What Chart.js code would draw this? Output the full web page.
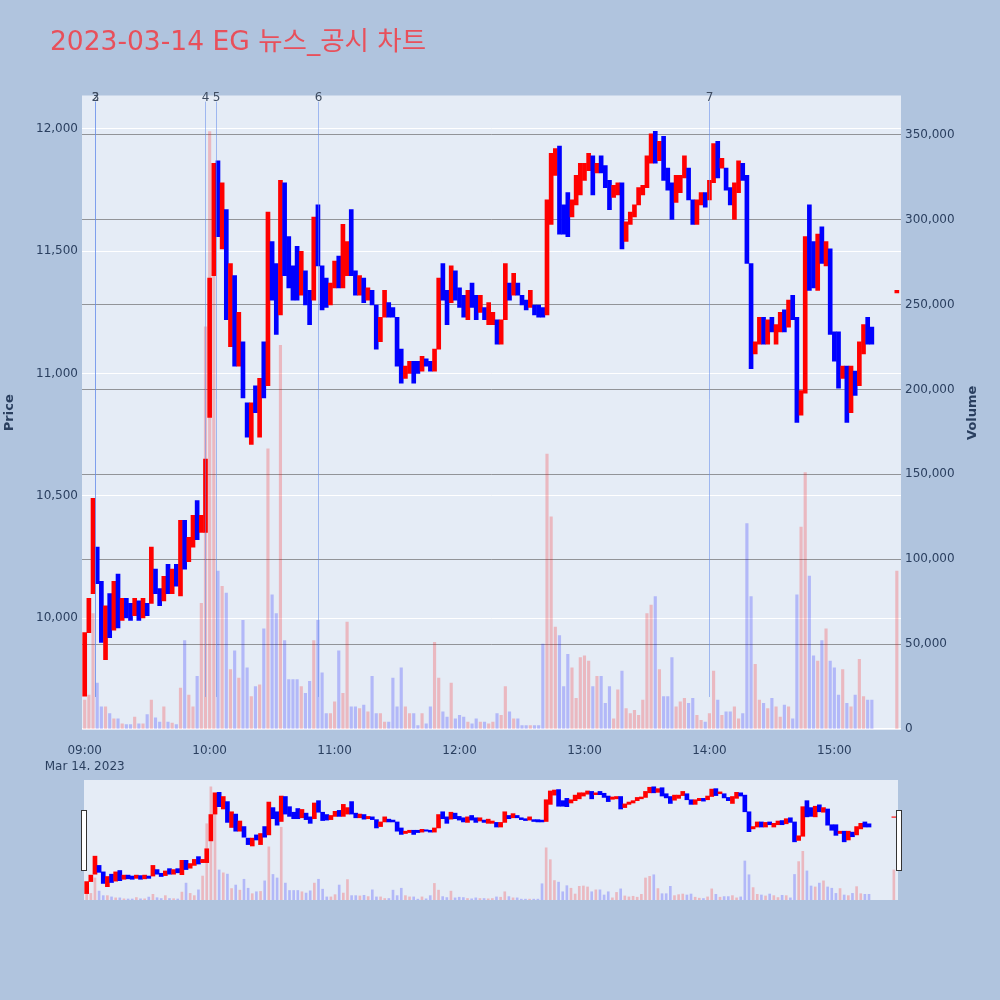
<!DOCTYPE html>
<html>
<head>
<meta charset="utf-8">
<script src="https://cdn.jsdelivr.net/npm/chart.js@4.4.1/dist/chart.umd.min.js"></script>
<style>
  html, body { margin: 0; padding: 0; background: #b0c4de; }
  #wrap { position: relative; width: 1000px; height: 1000px; }
  #main { position: absolute; left: 0; top: 0; }
  #slider { position: absolute; left: 74px; top: 780px; }
</style>
</head>
<body>
<div id="wrap">
  <canvas id="main" width="1000" height="1000"></canvas>
  <canvas id="slider" width="834" height="120"></canvas>
</div>
<script>
// 2-minute buckets of the 1-minute chart, plus the 15:30 closing auction
const times = [
  '09:00','09:02','09:04','09:06','09:08','09:10','09:12','09:14','09:16','09:18',
  '09:20','09:22','09:24','09:26','09:28','09:30','09:32','09:34','09:36','09:38',
  '09:40','09:42','09:44','09:46','09:48','09:50','09:52','09:54','09:56','09:58',
  '10:00','10:02','10:04','10:06','10:08','10:10','10:12','10:14','10:16','10:18',
  '10:20','10:22','10:24','10:26','10:28','10:30','10:32','10:34','10:36','10:38',
  '10:40','10:42','10:44','10:46','10:48','10:50','10:52','10:54','10:56','10:58',
  '11:00','11:02','11:04','11:06','11:08','11:10','11:12','11:14','11:16','11:18',
  '11:20','11:22','11:24','11:26','11:28','11:30','11:32','11:34','11:36','11:38',
  '11:40','11:42','11:44','11:46','11:48','11:50','11:52','11:54','11:56','11:58',
  '12:00','12:02','12:04','12:06','12:08','12:10','12:12','12:14','12:16','12:18',
  '12:20','12:22','12:24','12:26','12:28','12:30','12:32','12:34','12:36','12:38',
  '12:40','12:42','12:44','12:46','12:48','12:50','12:52','12:54','12:56','12:58',
  '13:00','13:02','13:04','13:06','13:08','13:10','13:12','13:14','13:16','13:18',
  '13:20','13:22','13:24','13:26','13:28','13:30','13:32','13:34','13:36','13:38',
  '13:40','13:42','13:44','13:46','13:48','13:50','13:52','13:54','13:56','13:58',
  '14:00','14:02','14:04','14:06','14:08','14:10','14:12','14:14','14:16','14:18',
  '14:20','14:22','14:24','14:26','14:28','14:30','14:32','14:34','14:36','14:38',
  '14:40','14:42','14:44','14:46','14:48','14:50','14:52','14:54','14:56','14:58',
  '15:00','15:02','15:04','15:06','15:08','15:10','15:12','15:14','15:16','15:18',
  '15:30'
];

const opens = [
  9680, 9940, 10100, 10290, 10150, 9830, 10100, 9950, 10180, 9990,
  10080, 10060, 10010, 10070, 10000, 10060, 10060, 10200, 10120, 10070,
  10220, 10100, 10220, 10090, 10400, 10230, 10290, 10480, 10350, 10350,
  10820, 11400, 11870, 11510, 11670, 11110, 11400, 11030, 11130, 10880,
  10710, 10950, 10740, 11130, 10950, 11540, 11450, 11240, 11780, 11560,
  11440, 11520, 11320, 11420, 11340, 11300, 11690, 11440, 11390, 11280,
  11350, 11480, 11350, 11400, 11670, 11420, 11320, 11390, 11300, 11340,
  11280, 11130, 11230, 11290, 11270, 11230, 11100, 10980, 11000, 11050,
  11050, 11010, 11060, 11050, 11010, 11100, 11450, 11340, 11290, 11420,
  11350, 11320, 11220, 11370, 11320, 11250, 11270, 11200, 11200, 11220,
  11120, 11220, 11370, 11320, 11370, 11320, 11300, 11270, 11280, 11280,
  11270, 11240, 11610, 11810, 11930, 11690, 11740, 11640, 11690, 11730,
  11790, 11830, 11890, 11820, 11890, 11850, 11790, 11720, 11730, 11780,
  11540, 11610, 11640, 11690, 11730, 11760, 11860, 11990, 11870, 11970,
  11840, 11780, 11700, 11740, 11800, 11840, 11710, 11610, 11690, 11740,
  11710, 11780, 11950, 11840, 11840, 11760, 11630, 11740, 11860, 11810,
  11450, 11080, 11120, 11230, 11120, 11230, 11120, 11170, 11260, 11190,
  11320, 11230, 10830, 10920, 11690, 11540, 11340, 11600, 11440, 11510,
  11170, 11170, 10980, 11030, 10840, 11010, 10950, 11080, 11230, 11190,
  11330
];

const closes = [
  9940, 10080, 10490, 10140, 9900, 10050, 9920, 10150, 9960, 10080,
  10000, 9990, 10080, 9990, 10080, 10010, 10290, 10100, 10050, 10170,
  10100, 10200, 10130, 10400, 10200, 10330, 10420, 10320, 10420, 10650,
  11390, 11860, 11560, 11780, 11220, 11450, 11030, 11250, 10900, 10740,
  10880, 10840, 10980, 10900, 11660, 11300, 11160, 11790, 11400, 11350,
  11300, 11300, 11500, 11280, 11200, 11640, 11440, 11260, 11270, 11370,
  11460, 11350, 11610, 11540, 11400, 11320, 11400, 11290, 11350, 11280,
  11100, 11230, 11340, 11230, 11230, 11030, 10960, 11030, 11050, 10960,
  11000, 11070, 11030, 11010, 11100, 11390, 11300, 11200, 11440, 11300,
  11270, 11230, 11340, 11270, 11220, 11320, 11220, 11290, 11250, 11120,
  11220, 11450, 11300, 11410, 11320, 11280, 11260, 11340, 11240, 11230,
  11230, 11710, 11900, 11920, 11570, 11570, 11560, 11710, 11810, 11860,
  11860, 11900, 11730, 11860, 11820, 11760, 11670, 11770, 11780, 11510,
  11620, 11660, 11690, 11760, 11770, 11890, 11980, 11860, 11950, 11790,
  11750, 11630, 11810, 11810, 11890, 11710, 11610, 11710, 11740, 11680,
  11790, 11940, 11800, 11880, 11750, 11690, 11780, 11870, 11790, 11450,
  11020, 11130, 11230, 11120, 11220, 11170, 11200, 11250, 11170, 11300,
  11220, 10800, 10930, 11560, 11340, 11350, 11570, 11450, 11540, 11160,
  11050, 10940, 11030, 10800, 11030, 10910, 11130, 11200, 11120, 11120,
  11340
];

const volumes = [
  17000, 20000, 68000, 27000, 13000, 13000, 9000, 6000, 6000, 3000,
  2500, 2500, 7000, 3000, 3000, 8500, 17000, 6500, 4000, 13000,
  4000, 3500, 2500, 24000, 52000, 20000, 13000, 31000, 74000, 237000,
  352000, 275000, 93000, 84000, 80000, 35000, 46000, 30000, 64000, 36000,
  19000, 25000, 26000, 59000, 165000, 79000, 68000, 226000, 52000, 29000,
  29000, 29000, 25000, 21000, 28000, 52000, 64000, 33000, 9000, 9000,
  16000, 46000, 21000, 63000, 13000, 13000, 12000, 14000, 10000, 31000,
  9000, 9000, 4000, 4000, 30000, 13000, 36000, 13000, 9000, 9000,
  2000, 9000, 3000, 13000, 51000, 30000, 10000, 7000, 27000, 6000,
  8000, 7000, 4000, 3000, 6000, 4000, 4000, 3000, 4000, 9000,
  8000, 25000, 10000, 6000, 6000, 2000, 2000, 2000, 2000, 2000,
  50000, 162000, 125000, 60000, 55000, 25000, 44000, 36000, 18000, 42000,
  43000, 40000, 25000, 31000, 31000, 15000, 25000, 6000, 23000, 34000,
  12000, 9000, 11000, 8000, 17000, 68000, 73000, 78000, 35000, 19000,
  19000, 42000, 13000, 16000, 18000, 15000, 18000, 8000, 5000, 4000,
  9000, 34000, 17000, 8000, 10000, 10000, 13000, 6000, 9000, 121000,
  78000, 38000, 17000, 15000, 12000, 18000, 13000, 7000, 14000, 13000,
  6000, 79000, 119000, 151000, 90000, 43000, 40000, 52000, 59000, 40000,
  36000, 20000, 35000, 15000, 13000, 20000, 41000, 19000, 17000, 17000,
  93000
];

const xTicks = ['09:00', '10:00', '11:00', '12:00', '13:00', '14:00', '15:00'];
const dateLabel = 'Mar 14, 2023';
const priceTicks = [10000, 10500, 11000, 11500, 12000];
const volumeTicks = [0, 50000, 100000, 150000, 200000, 250000, 300000, 350000];
const eventTimes = ['09:05', '09:05', '09:58', '10:03', '10:52', '14:00'];
const eventLabels = ['2', '3', '4', '5', '6', '7'];
const titleText = '2023-03-14 EG 뉴스_공시 차트';

// axis ranges
const X_MIN = -1.3, X_MAX = 392;
const P_MIN = 9542, P_MAX = 12137;
const V_MIN = -650, V_MAX = 373250;
const EVENT_LOW = 9677, EVENT_HIGH = 12112;

const FONT = '"DejaVu Sans", Verdana, "Noto Sans CJK KR", sans-serif';
const TXT = '#2a3f5f';
const UP = '#ff0000', DOWN = '#0000ff';
const UP_VOL = 'rgba(255,0,0,0.22)', DOWN_VOL = 'rgba(0,0,255,0.22)';

const toMin = s => { const [h, m] = s.split(':').map(Number); return (h - 9) * 60 + m; };
const isUp = i => closes[i] >= opens[i];
const fmt = v => Number(v).toLocaleString('en-US');

function makeDatasets(candleW, volW) {
  return [
    {
      label: 'Price', yAxisID: 'y', order: 0, grouped: false, barThickness: candleW, borderWidth: 0,
      data: times.map((t, i) => ({ x: toMin(t), y: [opens[i], closes[i]] })),
      backgroundColor: c => isUp(c.dataIndex) ? UP : DOWN
    },
    {
      label: 'Volume', yAxisID: 'y1', order: 1, grouped: false, barThickness: volW, borderWidth: 0,
      data: times.map((t, i) => ({ x: toMin(t), y: volumes[i] })),
      backgroundColor: c => isUp(c.dataIndex) ? UP_VOL : DOWN_VOL
    }
  ];
}

const plotBg = {
  id: 'plotBg',
  beforeDraw(chart) {
    const { ctx, chartArea: a } = chart;
    ctx.save();
    ctx.fillStyle = '#b0c4de';
    ctx.fillRect(0, 0, chart.width, chart.height);
    ctx.fillStyle = '#e5ecf6';
    ctx.fillRect(a.left, a.top, a.right - a.left, a.bottom - a.top);
    ctx.restore();
  }
};

const overlay = {
  id: 'overlay',
  afterDatasetsDraw(chart) {
    const { ctx, scales: { x, y } } = chart;
    ctx.save();
    ctx.lineWidth = 1;
    ctx.strokeStyle = 'rgba(100,140,235,0.55)';
    ctx.font = '12px ' + FONT;
    ctx.textAlign = 'center';
    ctx.textBaseline = 'alphabetic';
    ctx.fillStyle = '#3d4b60';
    eventTimes.forEach((t, i) => {
      const px = Math.round(x.getPixelForValue(toMin(t))) + 0.5;
      ctx.beginPath();
      ctx.moveTo(px, y.getPixelForValue(EVENT_HIGH));
      ctx.lineTo(px, y.getPixelForValue(EVENT_LOW));
      ctx.stroke();
      ctx.fillText(eventLabels[i], px, 101);
    });
    ctx.restore();
  },
  afterDraw(chart) {
    const { ctx, chartArea: a } = chart;
    const midY = (a.top + a.bottom) / 2;
    ctx.save();
    ctx.fillStyle = '#e8505b';
    ctx.font = '26.5px ' + FONT;
    ctx.textAlign = 'left';
    ctx.textBaseline = 'alphabetic';
    ctx.fillText(titleText, 50, 50);

    ctx.fillStyle = TXT;
    ctx.font = 'bold 13px ' + FONT;
    ctx.textAlign = 'center';
    ctx.textBaseline = 'middle';
    ctx.translate(10, midY);
    ctx.rotate(-Math.PI / 2);
    ctx.fillText('Price', 0, 0);
    ctx.rotate(Math.PI / 2);
    ctx.translate(963, 0);
    ctx.rotate(-Math.PI / 2);
    ctx.fillText('Volume', 0, 0);
    ctx.restore();
  }
};

new Chart(document.getElementById('main'), {
  type: 'bar',
  data: { datasets: makeDatasets(4, 2.5) },
  options: {
    responsive: false,
    animation: false,
    events: [],
    layout: { padding: { top: 95.5, bottom: 230, left: 0, right: 0 } },
    plugins: { legend: { display: false }, tooltip: { enabled: false } },
    scales: {
      x: {
        type: 'linear', min: X_MIN, max: X_MAX, offset: false,
        grid: { display: false }, border: { display: false },
        afterBuildTicks: s => { s.ticks = xTicks.map(t => ({ value: toMin(t) })); },
        afterFit: s => { s.height = 40; },
        ticks: {
          autoSkip: false, maxRotation: 0, padding: 5, color: TXT,
          font: { family: FONT, size: 12, lineHeight: 1.35 },
          callback: (v, i) => i === 0 ? [xTicks[i], dateLabel] : xTicks[i]
        }
      },
      y: {
        position: 'left', min: P_MIN, max: P_MAX,
        grid: { color: '#ffffff', lineWidth: 1, drawTicks: false }, border: { display: false },
        afterBuildTicks: s => { s.ticks = priceTicks.map(v => ({ value: v })); },
        afterFit: s => { s.width = 82; },
        ticks: { autoSkip: false, padding: 4, color: TXT, font: { family: FONT, size: 12 }, callback: fmt }
      },
      y1: {
        position: 'right', min: V_MIN, max: V_MAX,
        grid: { color: c => c.tick.value === 0 ? '#ffffff' : 'rgba(90,90,90,0.6)', lineWidth: 1, drawTicks: false },
        border: { display: false },
        afterBuildTicks: s => { s.ticks = volumeTicks.map(v => ({ value: v })); },
        afterFit: s => { s.width = 99; },
        ticks: { autoSkip: false, padding: 4, color: TXT, font: { family: FONT, size: 12 }, callback: fmt }
      }
    }
  },
  plugins: [plotBg, overlay]
});

const handles = {
  id: 'handles',
  afterDraw(chart) {
    const { ctx, chartArea: a } = chart;
    ctx.save();
    ctx.fillStyle = '#ffffff';
    ctx.strokeStyle = '#333333';
    ctx.lineWidth = 1;
    [a.left - 3, a.right - 2].forEach(x0 => {
      ctx.fillRect(x0 + 0.5, 30.5, 5, 60);
      ctx.strokeRect(x0 + 0.5, 30.5, 5, 60);
    });
    ctx.restore();
  }
};

new Chart(document.getElementById('slider'), {
  type: 'bar',
  data: { datasets: makeDatasets(4, 2) },
  options: {
    responsive: false,
    animation: false,
    events: [],
    layout: { padding: { top: 0, bottom: 0, left: 10, right: 10 } },
    plugins: { legend: { display: false }, tooltip: { enabled: false } },
    scales: {
      x: { type: 'linear', display: false, min: X_MIN, max: X_MAX, offset: false },
      y: { display: false, min: P_MIN, max: P_MAX },
      y1: { display: false, min: V_MIN, max: V_MAX }
    }
  },
  plugins: [plotBg, handles]
});
</script>
</body>
</html>
